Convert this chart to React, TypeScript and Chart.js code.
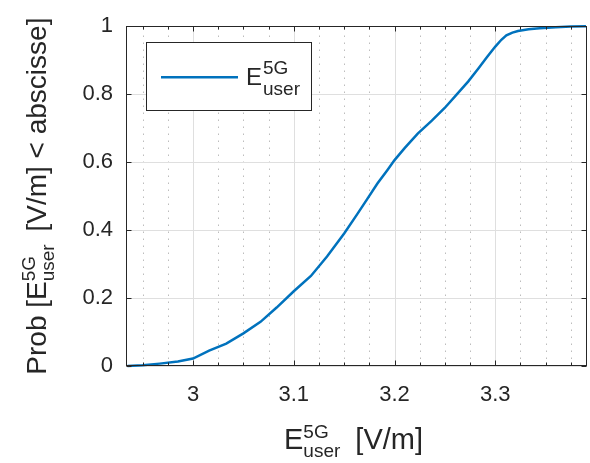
import React, { useEffect, useRef } from "react";
import { Chart, registerables } from "chart.js";

Chart.register(...registerables);

// ---- data ----
const cdfX = [
  2.935, 2.95, 2.967, 2.985, 3.0, 3.016, 3.033, 3.05, 3.067, 3.083, 3.1, 3.117,
  3.133, 3.15, 3.163, 3.173, 3.183, 3.193, 3.2, 3.21, 3.223, 3.237, 3.25, 3.262,
  3.273, 3.283, 3.292, 3.3, 3.306, 3.311, 3.317, 3.3225, 3.333, 3.344, 3.36,
  3.375, 3.39,
];
const cdfY = [
  0, 0.002, 0.007, 0.013, 0.022, 0.045, 0.066, 0.096, 0.13, 0.172, 0.22, 0.265,
  0.322, 0.39, 0.447, 0.492, 0.537, 0.577, 0.606, 0.641, 0.684, 0.722, 0.76, 0.8,
  0.837, 0.875, 0.91, 0.94, 0.96, 0.973, 0.981, 0.986, 0.991, 0.994, 0.997,
  0.999, 1,
];
const xTickValues = [3, 3.1, 3.2, 3.3];
const yTickValues = [0, 0.2, 0.4, 0.6, 0.8, 1];
const X_MIN = 2.9335;
const X_MAX = 3.391;
const MINOR_STEP = 0.025;
const seriesName = { base: "E", sup: "5G", sub: "user" };
const yTitleParts = { pre: "Prob [", post: "[V/m] < abscisse]" };
const xTitleParts = { post: "[V/m]" };

// ---- style ----
const FONT = '"Liberation Sans", Arial, Helvetica, sans-serif';
const INK = "#262626";
const BLUE = "#0072BD";
const GRID = "#dfdfdf";
const MINOR = "rgba(38,38,38,0.3)";

function drawSubSup(
  ctx: CanvasRenderingContext2D,
  x: number,
  base: number,
  sup: string,
  sub: string,
  size: number,
  supDy: number,
  subDy: number
) {
  ctx.font = `${size}px ${FONT}`;
  ctx.fillText(sup, x, base + supDy);
  ctx.fillText(sub, x, base + subDy);
  return Math.max(ctx.measureText(sup).width, ctx.measureText(sub).width);
}

function drawTitle(
  ctx: CanvasRenderingContext2D,
  pre: string,
  post: string,
  mainSize: number,
  smallSize: number,
  gap: number,
  centerX: number,
  baseline: number
) {
  ctx.font = `${mainSize}px ${FONT}`;
  const wPre = ctx.measureText(pre).width;
  const wE = ctx.measureText(seriesName.base).width;
  const wPost = ctx.measureText(post).width;
  ctx.font = `${smallSize}px ${FONT}`;
  const wSmall = Math.max(
    ctx.measureText(seriesName.sup).width,
    ctx.measureText(seriesName.sub).width
  );
  const total = wPre + wE + wSmall + gap + wPost;
  let cx = centerX - total / 2;
  ctx.font = `${mainSize}px ${FONT}`;
  ctx.fillText(pre, cx, baseline);
  cx += wPre;
  ctx.fillText(seriesName.base, cx, baseline);
  cx += wE;
  cx += drawSubSup(ctx, cx, baseline, seriesName.sup, seriesName.sub, smallSize, -11, 8);
  cx += gap;
  ctx.font = `${mainSize}px ${FONT}`;
  ctx.fillText(post, cx, baseline);
}

const matlabPlugin = {
  id: "matlabLook",
  beforeDatasetsDraw(chart: any) {
    const { ctx, chartArea: a, scales } = chart;
    const xs = scales.x;
    const ys = scales.y;
    ctx.save();
    // minor dotted verticals
    ctx.strokeStyle = MINOR;
    ctx.lineWidth = 1;
    ctx.setLineDash([1.5, 5.5]);
    const k0 = Math.ceil(X_MIN / MINOR_STEP - 1e-9);
    const k1 = Math.floor(X_MAX / MINOR_STEP + 1e-9);
    for (let k = k0; k <= k1; k++) {
      if (k % 4 === 0) continue;
      const px = Math.round(xs.getPixelForValue(k * MINOR_STEP)) + 0.5;
      ctx.beginPath();
      ctx.moveTo(px, a.bottom);
      ctx.lineTo(px, a.top);
      ctx.stroke();
    }
    ctx.setLineDash([]);
    // major grid
    ctx.strokeStyle = GRID;
    xTickValues.forEach((v) => {
      const px = Math.round(xs.getPixelForValue(v)) + 0.5;
      ctx.beginPath();
      ctx.moveTo(px, a.top);
      ctx.lineTo(px, a.bottom);
      ctx.stroke();
    });
    yTickValues.forEach((v) => {
      const py = Math.round(ys.getPixelForValue(v)) + 0.5;
      ctx.beginPath();
      ctx.moveTo(a.left, py);
      ctx.lineTo(a.right, py);
      ctx.stroke();
    });
    ctx.restore();
  },
  afterDatasetsDraw(chart: any) {
    const { ctx, chartArea: a, scales } = chart;
    const xs = scales.x;
    const ys = scales.y;
    ctx.save();
    // axes box
    ctx.strokeStyle = INK;
    ctx.lineWidth = 1;
    const L = Math.round(a.left) + 0.5;
    const R = Math.round(a.right) - 0.5;
    const T = Math.round(a.top) + 0.5;
    const B = Math.round(a.bottom) - 0.5;
    ctx.strokeRect(L, T, R - L, B - T);
    // ticks
    ctx.beginPath();
    const k0 = Math.ceil(X_MIN / MINOR_STEP - 1e-9);
    const k1 = Math.floor(X_MAX / MINOR_STEP + 1e-9);
    for (let k = k0; k <= k1; k++) {
      const len = k % 4 === 0 ? 5 : 3;
      const px = Math.round(xs.getPixelForValue(k * MINOR_STEP)) + 0.5;
      ctx.moveTo(px, B);
      ctx.lineTo(px, B - len);
      ctx.moveTo(px, T);
      ctx.lineTo(px, T + len);
    }
    yTickValues.forEach((v) => {
      const py = Math.round(ys.getPixelForValue(v)) + 0.5;
      ctx.moveTo(L, py);
      ctx.lineTo(L + 5, py);
      ctx.moveTo(R, py);
      ctx.lineTo(R - 5, py);
    });
    ctx.stroke();

    // legend
    const lx = a.left + 20;
    const ly = a.top + 16;
    const lw = 165;
    const lh = 68;
    ctx.fillStyle = "#ffffff";
    ctx.fillRect(lx, ly, lw, lh);
    ctx.strokeStyle = INK;
    ctx.strokeRect(Math.round(lx) + 0.5, Math.round(ly) + 0.5, lw, lh);
    ctx.strokeStyle = BLUE;
    ctx.lineWidth = 2.5;
    ctx.beginPath();
    ctx.moveTo(lx + 15, ly + 35);
    ctx.lineTo(lx + 92, ly + 35);
    ctx.stroke();
    ctx.fillStyle = INK;
    ctx.textBaseline = "alphabetic";
    ctx.textAlign = "left";
    ctx.font = `24px ${FONT}`;
    ctx.fillText(seriesName.base, lx + 100, ly + 42.5);
    const wE = ctx.measureText(seriesName.base).width;
    drawSubSup(ctx, lx + 100 + wE + 1, ly + 42.5, seriesName.sup, seriesName.sub, 19, -11, 10.5);

    // x title
    drawTitle(ctx, "", " " + xTitleParts.post, 29, 19, 7, (a.left + a.right) / 2 - 3, 449);

    // y title (rotated)
    ctx.translate(46, (a.top + a.bottom) / 2);
    ctx.rotate(-Math.PI / 2);
    drawTitle(ctx, yTitleParts.pre, " " + yTitleParts.post, 28, 19, 5, 0, 0);
    ctx.restore();
  },
};

const fmt = (v: number) => String(Math.round(v * 10) / 10);

export default function App() {
  const ref = useRef<HTMLCanvasElement>(null);
  useEffect(() => {
    if (!ref.current) return;
    const chart = new Chart(ref.current, {
      type: "scatter",
      data: {
        datasets: [
          {
            label: "E5Guser",
            data: cdfX.map((x, i) => ({ x, y: cdfY[i] })),
            showLine: true,
            borderColor: BLUE,
            backgroundColor: BLUE,
            borderWidth: 2.5,
            pointRadius: 0,
            tension: 0,
            clip: 4,
          } as any,
        ],
      },
      options: {
        animation: false,
        responsive: false,
        maintainAspectRatio: false,
        devicePixelRatio: 1,
        layout: { padding: { left: 0, right: 3, top: 16, bottom: 0 } },
        plugins: { legend: { display: false }, tooltip: { enabled: false } },
        events: [],
        scales: {
          x: {
            type: "linear",
            min: X_MIN,
            max: X_MAX,
            grid: { display: false, drawTicks: false },
            border: { display: false },
            afterFit: (s: any) => {
              s.height = 97;
            },
            afterBuildTicks: (s: any) => {
              s.ticks = xTickValues.map((v) => ({ value: v }));
            },
            ticks: {
              color: INK,
              font: { family: FONT, size: 22 },
              padding: 16,
              maxRotation: 0,
              autoSkip: false,
              callback: (v: any) => fmt(Number(v)),
            },
          },
          y: {
            type: "linear",
            min: 0,
            max: 1,
            grid: { display: false, drawTicks: false },
            border: { display: false },
            afterFit: (s: any) => {
              s.width = 126;
            },
            afterBuildTicks: (s: any) => {
              s.ticks = yTickValues.map((v) => ({ value: v }));
            },
            ticks: {
              color: INK,
              font: { family: FONT, size: 22 },
              padding: 13,
              autoSkip: false,
              callback: (v: any) => fmt(Number(v)),
            },
          },
        },
      },
      plugins: [matlabPlugin],
    });
    return () => chart.destroy();
  }, []);
  return (
    <div style={{ position: "absolute", left: 0, top: 0, width: 590, height: 463, background: "#fff" }}>
      <canvas ref={ref} width={590} height={463} style={{ width: 590, height: 463, display: "block" }} />
    </div>
  );
}
